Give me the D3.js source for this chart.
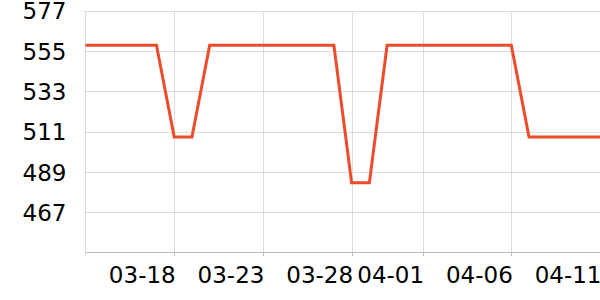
<!DOCTYPE html>
<html><head><meta charset="utf-8">
<script src="https://cdn.jsdelivr.net/npm/d3@7/dist/d3.min.js"></script>
<style>body{margin:0;background:#fff}svg{display:block}</style>
</head><body><svg id="c" width="600" height="300"></svg>
<script>
const dates = ["03-13","03-14","03-15","03-16","03-17","03-18","03-19","03-20","03-21","03-22",
  "03-23","03-24","03-25","03-26","03-27","03-28","03-29","03-30","03-31","04-01",
  "04-02","04-03","04-04","04-05","04-06","04-07","04-08","04-09","04-10","04-11"];
const values = [558,558,558,558,558,508,508,558,558,558,
  558,558,558,558,558,483,483,558,558,558,
  558,558,558,558,558,508,508,508,508,508];
const yTicks = [467,489,511,533,555,577];
const xTickLabels = ["03-18","03-23","03-28","04-01","04-06","04-11"];
const yMin = 445, yMax = 577;

const parse = s => d3.timeParse("%Y-%m-%d")("2019-" + s);
const data = dates.map((d,i)=>({date: parse(d), value: values[i]}));

const L = 85.5, R = 600, T = 10.5, B = 252.5;
const svg = d3.select("#c");
const x = d3.scaleTime().domain(d3.extent(data, d=>d.date)).range([L, R]);
const y = d3.scaleLinear().domain([yMin, yMax]).range([B, T]);
const font = "'DejaVu Sans', sans-serif";

// horizontal grid
const gy = svg.append("g").attr("transform", `translate(${L},0)`)
  .call(d3.axisLeft(y).tickValues(yTicks).tickSizeInner(-(R-L)).tickSizeOuter(0).tickFormat(""));
gy.select(".domain").remove();
gy.selectAll("line").attr("stroke", "#dcdcdc").attr("shape-rendering","crispEdges");

// vertical grid
const gx = svg.append("g").attr("transform", `translate(0,${B})`)
  .call(d3.axisBottom(x).tickValues(xTickLabels.map(parse)).tickSizeInner(-(B-T)).tickSizeOuter(0).tickFormat(""));
gx.select(".domain").remove();
gx.selectAll("line").attr("stroke", "#dcdcdc").attr("shape-rendering","crispEdges");

// y axis with labels
const ay = svg.append("g").attr("transform", `translate(${L},0)`)
  .call(d3.axisLeft(y).tickValues(yTicks).tickSizeInner(2).tickSizeOuter(0).tickPadding(17));
ay.select(".domain").attr("stroke", "#dcdcdc").attr("d", `M0,${T}V${B+3}`).attr("shape-rendering","crispEdges");
ay.selectAll("line").attr("stroke", "#dcdcdc").attr("shape-rendering","crispEdges");
ay.selectAll("text").attr("font-family", font).attr("font-size", 23).attr("fill", "#000").attr("dy", "0.36em");

// x axis with labels
const ax = svg.append("g").attr("transform", `translate(0,${B})`)
  .call(d3.axisBottom(x).tickValues(xTickLabels.map(parse)).tickSizeInner(3).tickSizeOuter(0)
    .tickFormat(d3.timeFormat("%m-%d")));
ax.select(".domain").attr("stroke", "#bbbbbb").attr("d", `M${L},0H${R}`).attr("shape-rendering","crispEdges");
ax.selectAll("line").attr("stroke", "#bbbbbb").attr("shape-rendering","crispEdges");
ax.selectAll("text").attr("font-family", font).attr("font-size", 23).attr("fill", "#000")
  .attr("text-anchor", "end").attr("y", 30).attr("dy", "0").attr("dx", "1");

// line
svg.append("path").datum(data)
  .attr("fill", "none").attr("stroke", "#ee4b2b").attr("stroke-width", 3).attr("stroke-linejoin", "miter")
  .attr("d", d3.line().x(d=>x(d.date)).y(d=>y(d.value)));
</script></body></html>
